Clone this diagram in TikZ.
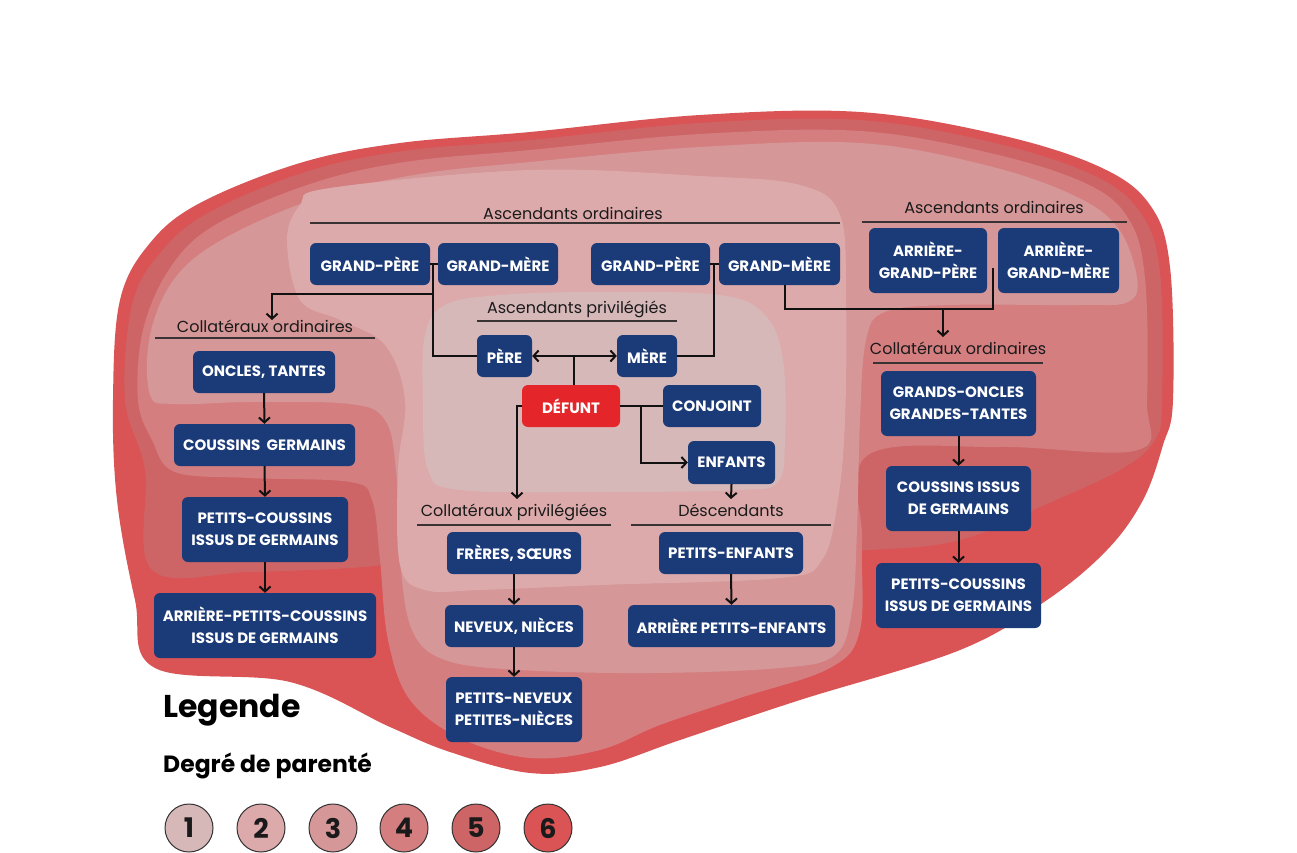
\documentclass[tikz,border=0pt]{standalone}
\usepackage{fontspec}
\setmainfont{Poppins}
\usetikzlibrary{arrows.meta,calc}
\definecolor{c1}{HTML}{D7B8B9}
\definecolor{c2}{HTML}{DDAAAB}
\definecolor{c3}{HTML}{D59798}
\definecolor{c4}{HTML}{D47E80}
\definecolor{c5}{HTML}{CD6466}
\definecolor{c6}{HTML}{DA5355}
\definecolor{boxc}{HTML}{1B3A78}
\definecolor{defc}{HTML}{E4262A}
\definecolor{txt}{HTML}{1A1A1A}
\definecolor{lnc}{HTML}{111111}
\definecolor{ulc}{HTML}{3A3333}
\definecolor{cdark}{HTML}{333333}
\begin{document}
\begin{tikzpicture}[x=1pt,y=-1pt,
  bx/.style={fill=boxc, rounded corners=6pt, text=white, font=\fontsize{15}{22}\selectfont\bfseries, align=center, inner sep=0pt},
  hd/.style={font=\fontsize{16}{19}\selectfont, text=txt, inner sep=0pt, anchor=base},
  ln/.style={line width=2pt, draw=lnc},
  ar/.style={ln, -{Straight Barb[length=5pt,width=11pt]}},
  ar2/.style={ln, {Straight Barb[length=5pt,width=11pt]}-{Straight Barb[length=5pt,width=11pt]}},
  ul/.style={line width=1.3pt, draw=ulc},
  lgc/.style={circle, draw=cdark, line width=1pt, minimum size=48pt, inner sep=0pt, font=\fontsize{27}{30}\selectfont\bfseries, text=txt}
]
\useasboundingbox (0,0) rectangle (1297,853);
% degree regions
\fill[c6] plot[smooth cycle, tension=0.6] coordinates {(113,400) (120,300) (150,243) (200,203) (300,163) (400,143) (530,132) (700,115) (860,112) (1000,135) (1100,167) (1150,205) (1170,267) (1173,400) (1163,445) (1143,500) (1107,550) (1047,600) (960,650) (800,700) (680,740) (600,767) (530,773) (450,752) (390,727) (290,682) (155,668) (135,600) (117,500)};
\fill[c5] plot[smooth cycle, tension=0.6] coordinates {(125,400) (132,305) (160,253) (208,213) (305,172) (403,151) (530,140) (700,123) (860,120) (995,143) (1093,175) (1140,212) (1160,272) (1162,400) (1155,440) (1120,470) (1040,507) (960,540) (870,550) (700,555) (420,555) (375,566) (250,572) (152,570) (145,470)};
\fill[c4] plot[smooth cycle, tension=0.6] coordinates {(138,400) (143,330) (170,268) (215,225) (310,184) (405,162) (530,150) (700,134) (860,131) (990,153) (1085,183) (1128,218) (1145,278) (1147,400) (1138,450) (1000,447) (868,455) (862,540) (860,630) (830,668) (740,698) (660,725) (600,750) (530,758) (460,738) (410,700) (388,640) (380,560) (372,500) (350,482) (250,478) (175,472) (152,440)};
\fill[c3] plot[smooth cycle, tension=0.6] coordinates {(150,395) (150,335) (175,278) (225,238) (320,197) (420,174) (530,162) (700,147) (860,143) (985,165) (1073,195) (1118,228) (1137,278) (1128,302) (1080,305) (950,305) (885,312) (866,340) (860,420) (857,530) (852,610) (835,655) (780,668) (650,673) (520,670) (445,660) (412,630) (400,560) (396,470) (385,420) (350,404) (250,402) (175,404)};
\fill[c2] plot[smooth cycle, tension=0.6] coordinates {(287,240) (300,205) (330,188) (530,170) (700,176) (800,185) (840,215) (846,300) (845,420) (838,500) (822,560) (780,578) (600,585) (480,590) (425,590) (400,565) (398,470) (405,400) (385,345) (340,320) (300,300)};
\fill[c1] plot[smooth cycle, tension=0.6] coordinates {(425,335) (445,305) (500,295) (600,292) (720,295) (765,315) (783,360) (785,440) (778,482) (740,490) (600,492) (460,490) (428,470) (423,400)};
% headings
\node[hd] (ao1) at (573,219) {Ascendants ordinaires};
\node[hd] (ao2) at (994,213) {Ascendants ordinaires};
\node[hd] (ap) at (577,313) {Ascendants privilégiés};
\node[hd] (co1) at (265,332) {Collatéraux ordinaires};
\node[hd] (co2) at (958,354) {Collatéraux ordinaires};
\node[hd] (cp) at (514,516) {Collatéraux privilégiées};
\node[hd] (ds) at (731,516) {Déscendants};
\draw[ul] (310,223) -- (840,223);
\draw[ul] (862,222) -- (1127,222);
\draw[ul] (477,321) -- (677,321);
\draw[ul] (155,338) -- (375,338);
\draw[ul] (873,363) -- (1043,363);
\draw[ul] (417,525) -- (611,525);
\draw[ul] (631,525) -- (831,525);
% boxes
\node[bx,minimum width=120,minimum height=42] (gp1) at (370,264) {GRAND-PÈRE};
\node[bx,minimum width=120,minimum height=42] (gm1) at (498,264) {GRAND-MÈRE};
\node[bx,minimum width=119,minimum height=42] (gp2) at (650.5,264) {GRAND-PÈRE};
\node[bx,minimum width=121,minimum height=42] (gm2) at (779.5,264) {GRAND-MÈRE};
\node[bx,minimum width=118,minimum height=65] (agp) at (928,260.5) {ARRIÈRE-\\GRAND-PÈRE};
\node[bx,minimum width=121,minimum height=65] (agm) at (1058.5,260.5) {ARRIÈRE-\\GRAND-MÈRE};
\node[bx,minimum width=55,minimum height=42] (pere) at (504.5,356) {PÈRE};
\node[bx,minimum width=60,minimum height=42] (mere) at (647,356) {MÈRE};
\node[bx,fill=defc,minimum width=98,minimum height=42] (def) at (571,406) {DÉFUNT};
\node[bx,minimum width=98,minimum height=42] (conj) at (712,406) {CONJOINT};
\node[bx,minimum width=87,minimum height=43] (enf) at (731.5,462.5) {ENFANTS};
\node[bx,minimum width=144,minimum height=42] (pe) at (731,553) {PETITS-ENFANTS};
\node[bx,minimum width=207,minimum height=42] (ape) at (731.5,626) {ARRIÈRE PETITS-ENFANTS};
\node[bx,minimum width=134,minimum height=42] (fs) at (514,553) {FRÈRES, SŒURS};
\node[bx,minimum width=138,minimum height=42] (nn) at (514,626) {NEVEUX, NIÈCES};
\node[bx,minimum width=136,minimum height=65] (pn) at (514,709.5) {PETITS-NEVEUX\\PETITES-NIÈCES};
\node[bx,minimum width=142,minimum height=42] (ot) at (264,372) {ONCLES, TANTES};
\node[bx,minimum width=181,minimum height=42] (cg) at (264.5,445) {COUSSINS\ \ GERMAINS};
\node[bx,minimum width=166,minimum height=65] (pc) at (265,529.5) {PETITS-COUSSINS\\ISSUS DE GERMAINS};
\node[bx,minimum width=222,minimum height=65] (apc) at (265,625.5) {ARRIÈRE-PETITS-COUSSINS\\ISSUS DE GERMAINS};
\node[bx,minimum width=155,minimum height=65] (go) at (958.5,403.5) {GRANDS-ONCLES\\GRANDES-TANTES};
\node[bx,minimum width=145,minimum height=65] (ci) at (958.5,498.5) {COUSSINS ISSUS\\DE GERMAINS};
\node[bx,minimum width=165,minimum height=65] (pcr) at (958.5,595.5) {PETITS-COUSSINS\\ISSUS DE GERMAINS};
% connector points
\coordinate (j1) at (433,264);
\coordinate (j1b) at (433,294);
\coordinate (t1) at (272,320);
\coordinate (j2) at (714,264);
\coordinate (j3) at (993,309);
\coordinate (j3t) at (993,268);
\coordinate (j4) at (943,309);
\coordinate (t2) at (943,337);
\coordinate (jd) at (574,356);
\coordinate (t3) at (517,499);
\coordinate (j5) at (641,406);
\coordinate (t4) at (731,499);
% connectors
\draw[ln] (gp1.east) -- (gm1.west);
\draw[ln] (j1) |- (pere.west);
\draw[ar] (j1b) -| (t1);
\draw[ln] (gp2.east) -- (gm2.west);
\draw[ln] (j2) |- (mere.east);
\draw[ln] ([xshift=5pt]gm2.south) |- (j3) -- (j3t);
\draw[ar] (j4) -- (t2);
\draw[ar2] (pere.east) -- (mere.west);
\draw[ln] (jd) -- (jd |- def.north);
\draw[ar] (def.west) -| (t3);
\draw[ln] (def.east) -- (conj.west);
\draw[ar] (j5) |- (enf.west);
\draw[ar] (enf.south) -- (t4);
\draw[ar] (fs.south) -- (nn.north);
\draw[ar] (nn.south) -- (pn.north);
\draw[ar] (pe.south) -- (ape.north);
\draw[ar] (ot.south) -- (cg.north);
\draw[ar] (cg.south) -- (pc.north);
\draw[ar] (pc.south) -- (apc.north);
\draw[ar] (go.south) -- (ci.north);
\draw[ar] (ci.south) -- (pcr.north);
% legend
\node[anchor=base west, inner sep=0pt, font=\fontsize{31.5}{36}\selectfont\bfseries, text=black] (lg) at (163,717) {Legende};
\node[anchor=base west, inner sep=0pt, font=\fontsize{23.5}{27}\selectfont\bfseries, text=black] (dp) at (163,772) {Degré de parenté};
\node[lgc, fill=c1] (k1) at (189,828) {1};
\node[lgc, fill=c2] (k2) at (261,828) {2};
\node[lgc, fill=c3] (k3) at (333,828) {3};
\node[lgc, fill=c4] (k4) at (404,828) {4};
\node[lgc, fill=c5] (k5) at (476,828) {5};
\node[lgc, fill=c6] (k6) at (548,828) {6};
\end{tikzpicture}
\end{document}
